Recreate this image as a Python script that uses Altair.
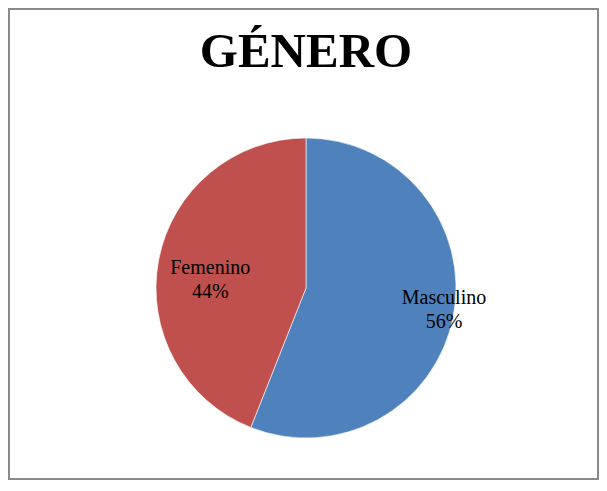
import altair as alt
import pandas as pd

categories = ["Masculino", "Femenino"]
percents = [56, 44]
colors = ["#4F81BD", "#C0504D"]
title_text = "GÉNERO"

df = pd.DataFrame({"cat": categories, "pct": percents})

W, H = 589, 470
CX, CY = 297, 279
R = 150
FONT = "Liberation Serif"

base = alt.Chart(df).transform_calculate(
    idx="indexof(['Masculino','Femenino'], datum.cat)",
    label="datum.cat + '\\n' + datum.pct + '%'",
)

theta = alt.Theta("pct:Q", stack=True)
order = alt.Order("idx:Q")

pie = base.mark_arc(radius=R, stroke="white", strokeWidth=0.6).encode(
    theta=theta,
    order=order,
    color=alt.Color("cat:N", scale=alt.Scale(domain=categories, range=colors), legend=None),
    x=alt.value(CX),
    y=alt.value(CY),
)

def label_layer(name, radius, dy):
    return base.mark_text(
        radius=radius, dy=dy, font=FONT, fontSize=20, lineBreak="\n",
        lineHeight=24, align="center", baseline="middle", color="black",
    ).encode(
        theta=theta,
        order=order,
        text=alt.condition(alt.datum.cat == name, alt.Text("label:N"), alt.value("")),
        x=alt.value(CX),
        y=alt.value(CY),
    )

lab_m = label_layer("Masculino", 140.5, -16)
lab_f = label_layer("Femenino", 97.5, -2)

title = alt.Chart(pd.DataFrame({"t": [title_text]})).mark_text(
    font=FONT, fontSize=49, fontWeight="bold", align="center",
    baseline="alphabetic", color="black",
).encode(text="t:N", x=alt.value(CX), y=alt.value(58))

chart = alt.layer(pie, lab_m, lab_f, title).properties(
    width=W, height=H, autosize=alt.AutoSizeParams(type="none"), padding=1,
).configure_view(stroke="#8a8a8a", strokeWidth=2)

chart.save("out.html", embed_options={"renderer": "svg", "actions": False})
